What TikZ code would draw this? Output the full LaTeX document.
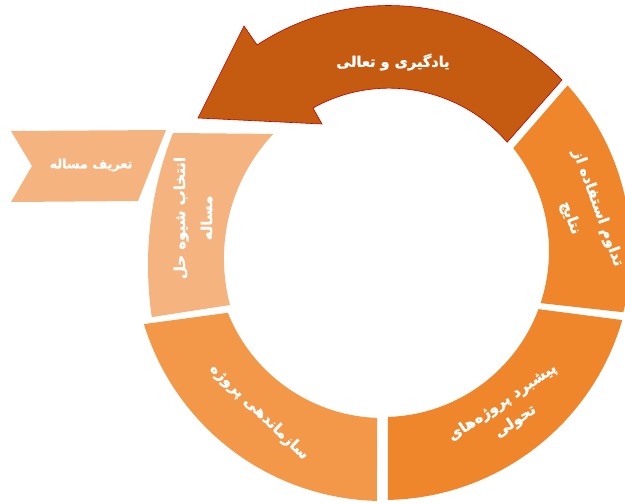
\documentclass[tikz,border=0pt]{standalone}
\usepackage{fontspec}
\newfontfamily\arabicfont[Script=Arabic, BoldFeatures={FakeBold=1.2}]{DejaVu Sans}
\TeXXeTstate=1
\definecolor{arrowbrown}{HTML}{C55A11}
\definecolor{arrowedge}{HTML}{C00000}
\definecolor{seglight}{HTML}{F5B47F}
\definecolor{segmid}{HTML}{F39748}
\definecolor{segdeep}{HTML}{F0862B}
\begin{document}
\begin{tikzpicture}[x=1pt,y=-1pt,
  lbl/.style={text=white, align=center, inner sep=0pt,
    font=\arabicfont\bfseries\fontsize{15}{25}\selectfont}]
\useasboundingbox (0,0) rectangle (625,504);
\clip (0,0) rectangle (625,504);
% problem definition ribbon
\fill[seglight] (11,131) -- (166,130) -- (138,201) -- (11,202) -- (32,166) -- cycle;
% light segment
\fill[seglight] (173,133) arc[start angle=201.45, end angle=171.7, radius=361]
  -- (230,305) arc[start angle=165.2, end angle=223.2, radius=182] -- cycle;
\begin{scope}[shift={(383,251)}]
  % right segment
  \fill[segdeep] (-41.9:248) arc[start angle=-41.9, end angle=14.3, radius=248]
    -- (18.3:166) arc[start angle=18.3, end angle=-38.3, radius=166] -- cycle;
  % bottom right segment
  \fill[segdeep] (16.1:249) arc[start angle=16.1, end angle=88.85, radius=249]
    -- (88.3:166) arc[start angle=88.3, end angle=20.5, radius=166] -- cycle;
  % bottom left segment
  \fill[segmid] (91.4:250) arc[start angle=91.4, end angle=163, radius=250]
    -- (158.3:167) arc[start angle=158.3, end angle=92, radius=167] -- cycle;
\end{scope}
% top circular arrow
\filldraw[fill=arrowbrown, draw=arrowedge, line width=0.6pt, line join=miter]
  (562,80) arc[start angle=-43.5, end angle=-123.4, radius=239]
  -- (244,26) -- (198,118) -- (322,124) -- (313,108)
  arc[start angle=-119.2, end angle=-40.8, radius=156] -- cycle;
% labels
\node[lbl, font=\arabicfont\bfseries\fontsize{14.5}{20}\selectfont] (learn) at (393,62) {\beginR یادگیری و تعالی\endR};
\node[lbl, font=\arabicfont\bfseries\fontsize{12.8}{18}\selectfont] (define) at (91,165) {\beginR تعریف مساله\endR};
\node[lbl, rotate=90, font=\arabicfont\bfseries\fontsize{15}{27}\selectfont] (choose) at (193,218)
  {\beginR انتخاب شیوه حل\endR\\\beginR مساله\endR};
\node[lbl, rotate=-44] (organize) at (259,412) {\beginR سازماندهی پروژه\endR};
\node[lbl, rotate=34, font=\arabicfont\bfseries\fontsize{15}{23}\selectfont] (advance) at (509,412)
  {\beginR پیشبرد پروژه‌های\endR\\\beginR تحولی\endR};
\node[lbl, rotate=-70, font=\arabicfont\bfseries\fontsize{15}{29}\selectfont] (sustain) at (584,213)
  {\beginR تداوم استفاده از\endR\\\beginR نتایج\endR};
\end{tikzpicture}
\end{document}
